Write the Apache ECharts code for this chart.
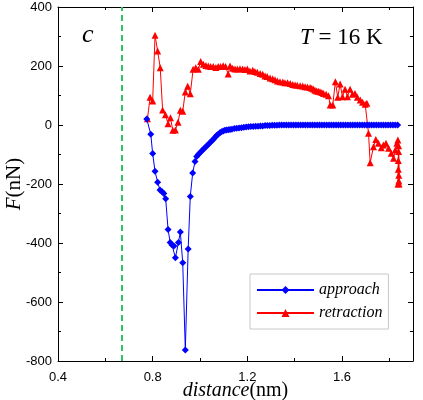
<!DOCTYPE html>
<html>
<head>
<meta charset="utf-8">
<script src="https://cdn.jsdelivr.net/npm/echarts@6/dist/echarts.min.js"></script>
<style>
  html, body { margin: 0; padding: 0; background: #fff; }
  #force-chart { width: 423px; height: 400px; }
</style>
</head>
<body>
<div id="force-chart"></div>
<script>
// approach curve (blue diamonds)
const approachX = [
    0.775, 0.792, 0.800, 0.810, 0.821, 0.831, 0.840, 0.847, 0.855, 0.865,
    0.874, 0.882, 0.890, 0.896, 0.909, 0.917, 0.927, 0.938, 0.950, 0.959,
    0.969, 0.979, 0.986, 0.993, 1.000, 1.007, 1.014, 1.021, 1.028, 1.035,
    1.042, 1.049, 1.056, 1.063, 1.070, 1.077, 1.084, 1.091, 1.098, 1.105,
    1.112, 1.120, 1.127, 1.135, 1.145, 1.155, 1.165, 1.175, 1.185, 1.195,
    1.205, 1.215, 1.225, 1.235, 1.245, 1.255, 1.265, 1.275, 1.285, 1.295,
    1.305, 1.315, 1.325, 1.335, 1.345, 1.355, 1.365, 1.375, 1.385, 1.395,
    1.405, 1.415, 1.425, 1.435, 1.445, 1.455, 1.465, 1.475, 1.485, 1.495,
    1.505, 1.515, 1.525, 1.535, 1.545, 1.555, 1.565, 1.575, 1.585, 1.595,
    1.605, 1.615, 1.625, 1.635, 1.645, 1.655, 1.665, 1.675, 1.685, 1.695,
    1.705, 1.715, 1.725, 1.735, 1.745, 1.755, 1.765, 1.775, 1.785, 1.795,
    1.805, 1.815, 1.825, 1.835
];
const approachF = [
    20, -31, -97, -157, -194, -220, -226, -232, -250, -354,
    -398, -407, -410, -450, -398, -363, -467, -763, -420, -242,
    -163, -124, -107, -100, -94, -88, -82, -77, -71, -66,
    -60, -54, -49, -42, -36, -31, -26, -23, -20, -18,
    -17, -16, -15, -14, -12, -11, -10, -9, -8, -7,
    -6, -5, -5, -4, -4, -3, -3, -2, -2, -2,
    -1, -1, -1, 0, 0, 0, 0, 0, 0, 0,
    0, 0, 0, 0, 0, 0, 0, 0, 0, 0,
    0, 0, 0, 0, 0, 0, 0, 0, 0, 0,
    0, 0, 0, 0, 0, 0, 0, 0, 0, 0,
    0, 0, 0, 0, 0, 0, 0, 0, 0, 0,
    0, 0, 0, 0
];

// retraction curve (red triangles)
const retractX = [
    0.778, 0.789, 0.800, 0.810, 0.821, 0.832, 0.842, 0.854, 0.865, 0.875,
    0.885, 0.896, 0.907, 0.917, 0.927, 0.938, 0.948, 0.959, 0.971, 0.982,
    0.993, 1.003, 1.014, 1.025, 1.035, 1.045, 1.056, 1.067, 1.077, 1.087,
    1.098, 1.108, 1.119, 1.127, 1.138, 1.148, 1.158, 1.169, 1.180, 1.190,
    1.200, 1.211, 1.223, 1.232, 1.242, 1.254, 1.265, 1.275, 1.284, 1.296,
    1.307, 1.317, 1.327, 1.338, 1.350, 1.359, 1.370, 1.381, 1.392, 1.402,
    1.411, 1.423, 1.434, 1.444, 1.454, 1.465, 1.472, 1.479, 1.486, 1.493,
    1.500, 1.507, 1.515, 1.522, 1.533, 1.543, 1.550, 1.561, 1.572, 1.582,
    1.592, 1.602, 1.613, 1.623, 1.634, 1.644, 1.655, 1.665, 1.677, 1.687,
    1.698, 1.705, 1.712, 1.719, 1.733, 1.743, 1.754, 1.766, 1.775, 1.786,
    1.797, 1.808, 1.818, 1.825, 1.832, 1.836, 1.838, 1.837, 1.839, 1.840,
    1.838, 1.841, 1.839, 1.840
];
const retractF = [
    21, 94, 81, 304, 251, 194, 51, 35, 4, 25,
    -18, -17, 9, 50, 47, 112, 131, 106, 189, 194,
    189, 215, 206, 202, 200, 198, 198, 195, 198, 198,
    201, 198, 173, 200, 192, 190, 190, 191, 190, 188,
    190, 183, 186, 181, 179, 175, 172, 166, 164, 159,
    157, 153, 149, 147, 146, 143, 143, 141, 137, 136,
    135, 133, 132, 130, 129, 127, 125, 122, 118, 115,
    114, 113, 110, 107, 104, 99, 68, 68, 147, 94,
    139, 96, 121, 96, 121, 104, 107, 94, 85, 77,
    70, 74, -28, -128, -74, -49, -62, -77, -68, -62,
    -79, -96, -113, -85, -62, -51, -120, -200, -90, -190,
    -150, -200, -70, -170
];

const dashX = 0.668;   // green dashed guide line

const xTicks = [0.4, 1.9, 0.4];   // min, max, major step
const yTicks = [-800, 400, 200];

const zip = (xs, ys) => xs.map((x, i) => [x, ys[i]]);

const forceChartFn = () => {
    let chart = echarts.init(document.getElementById('force-chart'));
    const serif = 'Liberation Serif';
    const sans = 'Liberation Sans';
    const black = '#000';

    const xBase = {
        type: 'value',
        min: xTicks[0],
        max: xTicks[1],
        splitLine: { show: false },
        axisLine: { onZero: false, lineStyle: { color: black, width: 1 } }
    };
    const hiddenLine = { show: false, onZero: false };
    const yBase = {
        type: 'value',
        min: yTicks[0],
        max: yTicks[1],
        interval: yTicks[2],
        splitLine: { show: false },
        axisLine: { onZero: false, lineStyle: { color: black, width: 1 } },
        axisTick: { inside: true, length: 5, lineStyle: { color: black } },
        minorTick: { show: true, splitNumber: 2, length: 3, lineStyle: { color: black } }
    };

    const option = {
        animation: false,
        backgroundColor: '#fff',
        grid: { left: 58, right: 10, top: 7, bottom: 39, outerBoundsMode: 'none' },
        legend: {
            data: ['approach', 'retraction'],
            orient: 'vertical',
            left: 250,
            top: 274,
            itemWidth: 57,
            itemHeight: 10,
            itemGap: 7,
            padding: [8, 6, 8, 6],
            borderColor: '#c8c8c8',
            borderWidth: 1,
            textStyle: { fontFamily: serif, fontStyle: 'italic', fontSize: 16, color: black }
        },
        xAxis: [
            Object.assign({}, xBase, {
                position: 'bottom',
                interval: xTicks[2],
                axisTick: { inside: true, length: 5, lineStyle: { color: black } },
                axisLabel: {
                    color: black, fontFamily: sans, fontSize: 13, margin: 10,
                    showMaxLabel: false,
                    formatter: v => v.toFixed(1)
                },
                name: '{i|distance}(nm)',
                nameLocation: 'middle',
                nameGap: 20,
                nameMoveOverlap: false,
                nameTextStyle: {
                    fontFamily: serif, fontSize: 20, color: black,
                    rich: { i: { fontFamily: serif, fontStyle: 'italic', fontSize: 20, color: black } }
                }
            }),
            Object.assign({}, xBase, {
                position: 'bottom',
                interval: xTicks[2] / 2,
                axisLine: hiddenLine,
                axisTick: { inside: true, length: 3, lineStyle: { color: black } },
                axisLabel: { show: false }
            }),
            Object.assign({}, xBase, {
                position: 'top',
                interval: xTicks[2],
                axisTick: { inside: true, length: 5, lineStyle: { color: black } },
                axisLabel: { show: false }
            }),
            Object.assign({}, xBase, {
                position: 'top',
                interval: xTicks[2] / 2,
                axisLine: hiddenLine,
                axisTick: { inside: true, length: 3, lineStyle: { color: black } },
                axisLabel: { show: false }
            })
        ],
        yAxis: [
            Object.assign({}, yBase, {
                position: 'left',
                axisLabel: { color: black, fontFamily: sans, fontSize: 13, margin: 6 },
                name: '{i|F}(nN)',
                nameLocation: 'middle',
                nameRotate: 90,
                nameGap: 33,
                nameMoveOverlap: false,
                nameTextStyle: {
                    fontFamily: serif, fontSize: 21, color: black,
                    rich: { i: { fontFamily: serif, fontStyle: 'italic', fontSize: 21, color: black } }
                }
            }),
            Object.assign({}, yBase, {
                position: 'right',
                axisLabel: { show: false }
            })
        ],
        graphic: [
            {
                type: 'text', left: 82, top: 22,
                style: { text: 'c', font: 'italic 26px "Liberation Serif"', fill: black }
            },
            {
                type: 'text', left: 300, top: 26,
                style: {
                    text: '{i|T} = 16 K',
                    font: '23px "Liberation Serif"',
                    fill: black,
                    rich: { i: { fontFamily: serif, fontStyle: 'italic', fontSize: 23, fill: black, color: black } }
                }
            }
        ],
        series: [
            {
                name: 'approach',
                type: 'line',
                color: '#0000ff',
                xAxisIndex: 0,
                yAxisIndex: 0,
                symbol: 'diamond',
                symbolSize: 7,
                lineStyle: { width: 1 },
                data: zip(approachX, approachF),
                markLine: {
                    silent: true,
                    symbol: 'none',
                    label: { show: false },
                    lineStyle: { color: '#2fc463', type: [6, 4], width: 2 },
                    data: [{ xAxis: dashX }]
                },
                z: 3
            },
            {
                name: 'retraction',
                type: 'line',
                color: '#ff0000',
                xAxisIndex: 0,
                yAxisIndex: 0,
                symbol: 'triangle',
                symbolSize: 7,
                lineStyle: { width: 1 },
                data: zip(retractX, retractF),
                z: 2
            }
        ]
    };
    chart.setOption(option);
    return chart;
};

forceChartFn();
</script>
</body>
</html>
